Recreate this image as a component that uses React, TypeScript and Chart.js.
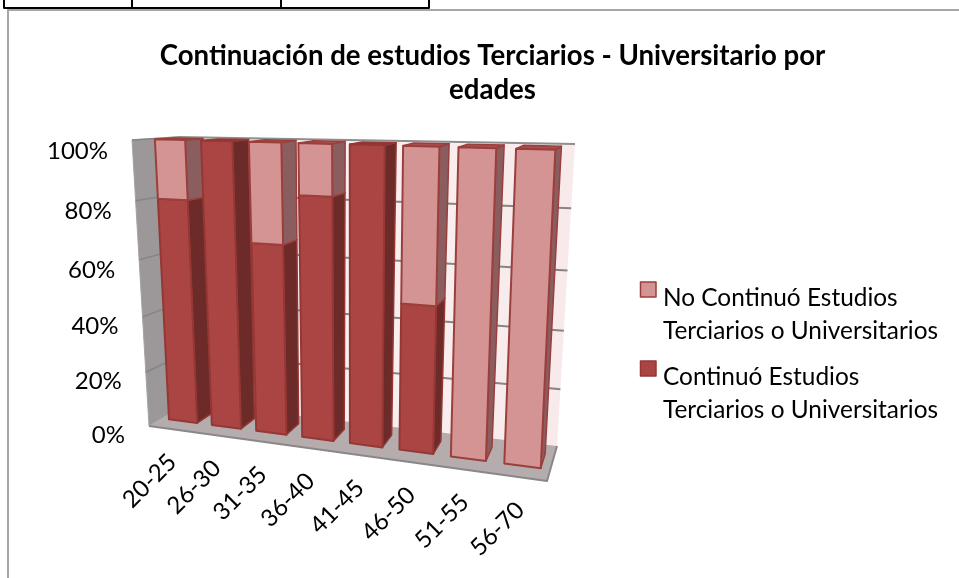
import React, { useEffect, useRef } from "react";
import { Chart, registerables } from "chart.js";

Chart.register(...registerables);

const categories = ["20-25", "26-30", "31-35", "36-40", "41-45", "46-50", "51-55", "56-70"];
const continuo = [80, 100, 66.7, 83.3, 100, 50, 0, 0];
const noContinuo = [20, 0, 33.3, 16.7, 0, 50, 100, 100];
const yTicks = [0, 20, 40, 60, 80, 100];
const seriesContinuo = "Continuó Estudios Terciarios o Universitarios";
const seriesNoContinuo = "No Continuó Estudios Terciarios o Universitarios";
const titleLines = ["Continuación de estudios Terciarios - Universitario por", "edades"];
const legendLinesNo = ["No Continuó Estudios", "Terciarios o Universitarios"];
const legendLinesSi = ["Continuó Estudios", "Terciarios o Universitarios"];

type P = [number, number];
// corners of the 3D box as seen on the page: F front / B back, then u (left/right), v (bottom/top)
const F00: P = [149, 426], F10: P = [547, 481], B00: P = [188, 403], B10: P = [557, 446];
const F01: P = [132, 140], F11: P = [561, 153], B01: P = [178, 137], B11: P = [575, 144];
const Q_U = 0.16, R_V = 0.08, BAR_D0 = 0.33, BAR_D1 = 0.74;

const lerp = (a: P, b: P, t: number): P => [a[0] + (b[0] - a[0]) * t, a[1] + (b[1] - a[1]) * t];
function proj(u: number, v: number, d: number): P {
  const uu = u / (1 + Q_U * (1 - u));
  const vv = v / (1 + R_V * (1 - v));
  const front = lerp(lerp(F00, F10, uu), lerp(F01, F11, uu), vv);
  const back = lerp(lerp(B00, B10, uu), lerp(B01, B11, uu), vv);
  return lerp(front, back, d);
}
function poly(ctx: CanvasRenderingContext2D, pts: P[], fill?: any, stroke?: string, lw = 1) {
  ctx.beginPath();
  pts.forEach((p, i) => (i ? ctx.lineTo(p[0], p[1]) : ctx.moveTo(p[0], p[1])));
  ctx.closePath();
  if (fill) { ctx.fillStyle = fill; ctx.fill(); }
  if (stroke) { ctx.strokeStyle = stroke; ctx.lineWidth = lw; ctx.lineJoin = "round"; ctx.stroke(); }
}
function line(ctx: CanvasRenderingContext2D, pts: P[], stroke: string, lw: number) {
  ctx.beginPath();
  pts.forEach((p, i) => (i ? ctx.lineTo(p[0], p[1]) : ctx.moveTo(p[0], p[1])));
  ctx.strokeStyle = stroke; ctx.lineWidth = lw; ctx.stroke();
}

const STYLE = [
  { front: "#AA4543", side: "#6C2A29", top: "#8F3634", edge: "#953735" },
  { front: "#D59494", side: "#8A5E5F", top: "#A65050", edge: "#9B3F3D" },
];
const FONT = "Lato";

const scene3d = {
  id: "scene3d",
  beforeDatasetsDraw(chart: any) {
    const ctx: CanvasRenderingContext2D = chart.ctx;
    const { left, right, top, bottom } = chart.chartArea;
    const U = (x: number) => (x - left) / (right - left);
    const V = (y: number) => (bottom - y) / (bottom - top);
    const yS = chart.scales.y, xS = chart.scales.x;
    ctx.save();

    // frame
    line(ctx, [[8, 578], [8, 10], [959, 10]], "#A6A6A6", 2);

    // back wall
    const grad = ctx.createLinearGradient(proj(0, 0, 1)[0], 0, proj(1, 0, 1)[0], 0);
    grad.addColorStop(0, "#FBF4F4");
    grad.addColorStop(1, "#F8EAEA");
    poly(ctx, [proj(0, 0, 1), proj(1, 0, 1), proj(1, 1, 1), proj(0, 1, 1)], grad);
    // left wall
    poly(ctx, [proj(0, 0, 0), proj(0, 0, 1), proj(0, 1, 1), proj(0, 1, 0)], "#9C9899", "#A5A2A2", 1);
    // floor
    poly(ctx, [proj(0, 0, 0), proj(1, 0, 0), proj(1, 0, 1), proj(0, 0, 1)], "#B4ACAD");
    line(ctx, [proj(0, 0, 0), proj(1, 0, 0), proj(1, 0, 1)], "#8A8788", 2);
    line(ctx, [proj(0, 1, 1), proj(1, 1, 1)], "#8F8D8D", 2);

    // gridlines and value labels
    ctx.font = `24px ${FONT}`;
    ctx.textAlign = "right";
    ctx.textBaseline = "middle";
    yTicks.forEach((t) => {
      const v = V(yS.getPixelForValue(t));
      if (t > 0) {
        line(ctx, [proj(0, v, 0), proj(0, v, 1)], "#868484", 1.5);
        if (t < 100) line(ctx, [proj(0, v, 1), proj(1, v, 1)], "#868484", 2);
      }
      const p = proj(0, v, 0);
      ctx.fillStyle = "#000";
      ctx.fillText(`${t}%`, p[0] - 24, p[1] + 9 + v * 2);
    });

    // bars, from the chart's own elements
    const n = chart.data.labels.length;
    for (let i = 0; i < n; i++) {
      chart.data.datasets.forEach((_: any, di: number) => {
        const el: any = chart.getDatasetMeta(di).data[i];
        const st = STYLE[di];
        if (Math.abs(el.y - el.base) < 0.5) return;
        const u0 = U(el.x - el.width / 2), u1 = U(el.x + el.width / 2);
        const v0 = V(el.base), v1 = V(el.y);
        const d0 = BAR_D0, d1 = BAR_D1;
        poly(ctx, [proj(u1, v0, d0), proj(u1, v0, d1), proj(u1, v1, d1), proj(u1, v1, d0)], st.side, st.edge, 1.5);
        poly(ctx, [proj(u0, v1, d0), proj(u1, v1, d0), proj(u1, v1, d1), proj(u0, v1, d1)], st.top, st.edge, 1.5);
        poly(ctx, [proj(u0, v0, d0), proj(u1, v0, d0), proj(u1, v1, d0), proj(u0, v1, d0)], st.front, st.edge, 2);
      });
    }

    // category labels
    ctx.font = `24px ${FONT}`;
    ctx.textAlign = "center";
    ctx.textBaseline = "middle";
    ctx.fillStyle = "#000";
    categories.forEach((c, i) => {
      const p = proj(U(xS.getPixelForValue(i)), 0, 0);
      ctx.save();
      ctx.translate(p[0] - 21, p[1] + 52);
      ctx.rotate(-Math.PI / 4);
      ctx.fillText(c, 0, 0);
      ctx.restore();
    });

    // legend
    ctx.font = `24.4px ${FONT}`;
    ctx.textAlign = "left";
    ctx.textBaseline = "middle";
    const drawLegend = (lines: string[], st: any, y0: number) => {
      poly(ctx, [[640.5, y0 - 16], [656, y0 - 16], [656, y0 - 1], [640.5, y0 - 1]], st.front, st.edge, 1.5);
      ctx.fillStyle = "#000";
      lines.forEach((l, k) => ctx.fillText(l, 663, y0 + k * 33));
    };
    drawLegend(legendLinesNo, STYLE[1], 298);
    drawLegend(legendLinesSi, STYLE[0], 377);

    // fragment of the table above the chart
    line(ctx, [[4, 0], [4, 8], [429, 8], [429, 0]], "#000", 2);
    line(ctx, [[132, 0], [132, 8]], "#000", 2);
    line(ctx, [[281, 0], [281, 8]], "#000", 2);

    ctx.restore();
    return false;
  },
};

export default function App() {
  const ref = useRef<HTMLCanvasElement>(null);
  useEffect(() => {
    if (!ref.current) return;
    const chart = new Chart(ref.current, {
      type: "bar",
      data: {
        labels: categories,
        datasets: [
          { label: seriesContinuo, data: continuo, backgroundColor: STYLE[0].front, borderColor: STYLE[0].edge },
          { label: seriesNoContinuo, data: noContinuo, backgroundColor: STYLE[1].front, borderColor: STYLE[1].edge },
        ],
      },
      options: {
        animation: false,
        responsive: false,
        layout: { padding: { left: 26, top: 39, right: 0, bottom: 10 } },
        datasets: { bar: { categoryPercentage: 1, barPercentage: 0.66 } },
        scales: {
          x: { stacked: true, display: false },
          y: { stacked: true, display: false, min: 0, max: 100 },
        },
        plugins: {
          legend: { display: false },
          tooltip: { enabled: false },
          title: {
            display: true,
            text: titleLines,
            color: "#000",
            font: { family: FONT, size: 27.6, weight: "bold", lineHeight: 1.23 },
            padding: 0,
          },
        },
      } as any,
      plugins: [scene3d],
    });
    return () => chart.destroy();
  }, []);
  return (
    <div style={{ position: "fixed", left: 0, top: 0, width: 959, height: 578, background: "#fff" }}>
      <canvas ref={ref} width={959} height={578} style={{ display: "block" }} />
    </div>
  );
}
